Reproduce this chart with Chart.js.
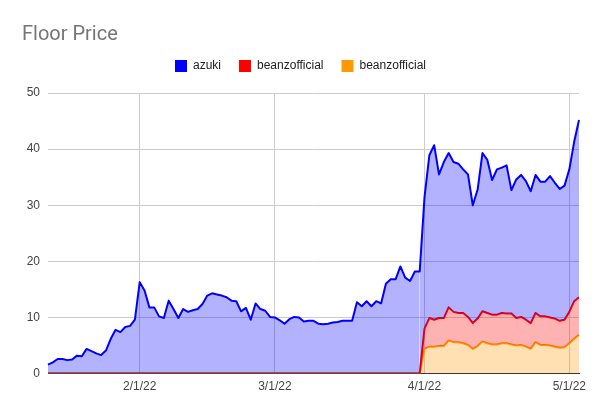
<!DOCTYPE html>
<html>
<head>
<meta charset="utf-8">
<script src="https://cdn.jsdelivr.net/npm/chart.js@4.4.0/dist/chart.umd.min.js"></script>
<style>
  html, body { margin: 0; padding: 0; background: #fff; }
  #wrap { width: 600px; height: 414px; }
</style>
</head>
<body>
<div id="wrap"><canvas id="c" width="600" height="414"></canvas></div>
<script>
const dates = [
  '1/13/22','1/14/22','1/15/22','1/16/22','1/17/22','1/18/22','1/19/22','1/20/22','1/21/22','1/22/22',
  '1/23/22','1/24/22','1/25/22','1/26/22','1/27/22','1/28/22','1/29/22','1/30/22','1/31/22',
  '2/1/22','2/2/22','2/3/22','2/4/22','2/5/22','2/6/22','2/7/22','2/8/22','2/9/22','2/10/22',
  '2/11/22','2/12/22','2/13/22','2/14/22','2/15/22','2/16/22','2/17/22','2/18/22','2/19/22','2/20/22',
  '2/21/22','2/22/22','2/23/22','2/24/22','2/25/22','2/26/22','2/27/22','2/28/22',
  '3/1/22','3/2/22','3/3/22','3/4/22','3/5/22','3/6/22','3/7/22','3/8/22','3/9/22','3/10/22',
  '3/11/22','3/12/22','3/13/22','3/14/22','3/15/22','3/16/22','3/17/22','3/18/22','3/19/22','3/20/22',
  '3/21/22','3/22/22','3/23/22','3/24/22','3/25/22','3/26/22','3/27/22','3/28/22','3/29/22','3/30/22','3/31/22',
  '4/1/22','4/2/22','4/3/22','4/4/22','4/5/22','4/6/22','4/7/22','4/8/22','4/9/22','4/10/22',
  '4/11/22','4/12/22','4/13/22','4/14/22','4/15/22','4/16/22','4/17/22','4/18/22','4/19/22','4/20/22',
  '4/21/22','4/22/22','4/23/22','4/24/22','4/25/22','4/26/22','4/27/22','4/28/22','4/29/22','4/30/22',
  '5/1/22','5/2/22','5/3/22'
];

const tickLabels = ['2/1/22', '3/1/22', '4/1/22', '5/1/22'];
const yTicks = [0, 10, 20, 30, 40, 50];

const azuki = [
  1.6, 2.0, 2.6, 2.6, 2.4, 2.5, 3.2, 3.1, 4.4, 4.0,
  3.6, 3.3, 4.1, 6.2, 7.8, 7.4, 8.3, 8.5, 9.6,
  16.3, 14.8, 11.8, 11.8, 10.2, 9.9, 13.0, 11.5, 9.9, 11.5,
  11.0, 11.3, 11.5, 12.4, 13.9, 14.3, 14.1, 13.9, 13.6, 13.0,
  12.9, 11.1, 11.7, 9.6, 12.5, 11.5, 11.2, 10.1,
  10.0, 9.5, 8.9, 9.7, 10.1, 10.0, 9.3, 9.4, 9.4, 8.9,
  8.8, 8.9, 9.1, 9.2, 9.4, 9.4, 9.4, 12.7, 12.0, 12.9,
  12.0, 12.9, 12.5, 16.0, 16.8, 16.8, 19.1, 17.1, 16.5, 18.2, 18.2,
  31.5, 38.9, 40.7, 35.5, 37.7, 39.3, 37.7, 37.4, 36.4, 35.5,
  30.0, 32.8, 39.3, 38.1, 34.5, 36.4, 36.7, 37.1, 32.7, 34.6,
  35.4, 34.3, 32.5, 35.4, 34.2, 34.2, 35.2, 34.0, 32.9, 33.5,
  36.4, 41.3, 45.2
];

const beanzRed = [
  0,0,0,0,0,0,0,0,0,0, 0,0,0,0,0,0,0,0,0,
  0,0,0,0,0,0,0,0,0,0, 0,0,0,0,0,0,0,0,0,0, 0,0,0,0,0,0,0,0,
  0,0,0,0,0,0,0,0,0,0, 0,0,0,0,0,0,0,0,0,0, 0,0,0,0,0,0,0,0,0,0,0,
  8.0, 9.9, 9.6, 9.9, 9.9, 11.8, 11.0, 10.8, 10.8, 10.1,
  9.0, 9.8, 11.1, 10.8, 10.5, 10.5, 10.8, 10.7, 10.7, 9.9,
  10.1, 9.6, 9.0, 10.8, 10.2, 10.2, 10.0, 9.8, 9.4, 9.6,
  11.0, 12.9, 13.6
];

const beanzOrange = [
  0,0,0,0,0,0,0,0,0,0, 0,0,0,0,0,0,0,0,0,
  0,0,0,0,0,0,0,0,0,0, 0,0,0,0,0,0,0,0,0,0, 0,0,0,0,0,0,0,0,
  0,0,0,0,0,0,0,0,0,0, 0,0,0,0,0,0,0,0,0,0, 0,0,0,0,0,0,0,0,0,0,0,
  4.4, 4.8, 4.8, 4.9, 4.9, 5.9, 5.6, 5.6, 5.4, 5.1,
  4.4, 4.9, 5.7, 5.4, 5.2, 5.2, 5.4, 5.4, 5.2, 5.0,
  5.1, 4.8, 4.4, 5.6, 5.1, 5.1, 5.0, 4.8, 4.6, 4.7,
  5.4, 6.2, 6.9
];

const seriesNames = ['azuki', 'beanzofficial', 'beanzofficial'];
const lineColors = ['#0000ff', '#ff0000', '#ff9900'];
const fillColors = ['rgba(0,0,255,0.3)', 'rgba(255,0,0,0.3)', 'rgba(255,153,0,0.3)'];

const labelFont = { family: 'Arial, "Liberation Sans", sans-serif', size: 12 };

new Chart(document.getElementById('c'), {
  type: 'line',
  data: {
    labels: dates,
    datasets: [
      { label: seriesNames[0], data: azuki, borderColor: lineColors[0], backgroundColor: fillColors[0], fill: '+1' },
      { label: seriesNames[1], data: beanzRed, borderColor: lineColors[1], backgroundColor: fillColors[1], fill: '+1',
        segment: { borderColor: ctx => (ctx.p0.parsed.y === 0 && ctx.p1.parsed.y === 0) ? '#8b1a1a' : undefined } },
      { label: seriesNames[2], data: beanzOrange, borderColor: lineColors[2], backgroundColor: fillColors[2], fill: 'origin' }
    ]
  },
  options: {
    responsive: false,
    animation: false,
    devicePixelRatio: 1,
    elements: {
      point: { radius: 0, hoverRadius: 0 },
      line: { borderWidth: 2, tension: 0, borderJoinStyle: 'round' }
    },
    layout: { padding: { left: 22, right: 21, top: 0, bottom: 14 } },
    plugins: {
      tooltip: { enabled: false },
      title: {
        display: true,
        text: 'Floor Price',
        align: 'start',
        color: '#757575',
        font: { family: 'Roboto, Arial, sans-serif', size: 20, weight: 'normal' },
        padding: { top: 23, bottom: -5 }
      },
      subtitle: {
        display: true,
        text: ' ',
        weight: 500,
        font: { size: 10, lineHeight: 1.1 },
        padding: { top: 0, bottom: 0 }
      },
      legend: {
        display: true,
        position: 'top',
        align: 'center',
        labels: {
          boxWidth: 12,
          boxHeight: 12,
          padding: 18,
          color: '#222222',
          font: labelFont,
          generateLabels: chart => chart.data.datasets.map((ds, i) => ({
            text: ds.label,
            fillStyle: lineColors[i],
            strokeStyle: lineColors[i],
            lineWidth: 0,
            hidden: false,
            datasetIndex: i,
            fontColor: '#222222'
          }))
        }
      }
    },
    scales: {
      x: {
        type: 'category',
        offset: false,
        border: { display: true, color: '#333333', width: 1 },
        grid: {
          drawTicks: false,
          color: '#cccccc',
          lineWidth: 1
        },
        ticks: {
          autoSkip: false,
          maxRotation: 0,
          minRotation: 0,
          padding: 6,
          color: '#444444',
          font: labelFont,
          callback: function (value) {
            const lab = this.getLabelForValue(value);
            return tickLabels.includes(lab) ? lab : null;
          }
        }
      },
      y: {
        min: yTicks[0],
        max: yTicks[yTicks.length - 1],
        afterFit: scale => { scale.width = 26; },
        border: { display: false },
        grid: { drawTicks: false, color: '#cccccc', lineWidth: 1 },
        afterBuildTicks: scale => { scale.ticks = yTicks.map(v => ({ value: v })); },
        ticks: {
          padding: 8,
          color: '#444444',
          font: labelFont
        }
      }
    }
  }
});
</script>
</body>
</html>
